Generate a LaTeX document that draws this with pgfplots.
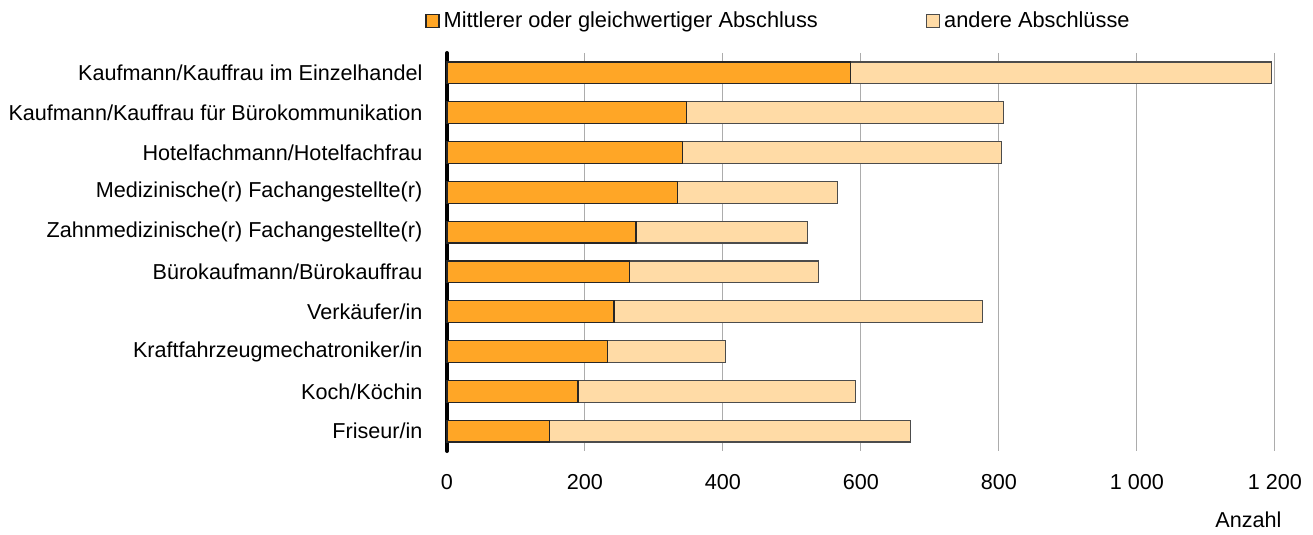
\documentclass[border=0pt]{standalone}
\usepackage{pgfplots}
\pgfplotsset{compat=1.18}
\usepackage{fontspec}
\setmainfont{Liberation Sans}
\definecolor{mittel}{RGB}{255,166,38}
\definecolor{andere}{RGB}{255,219,166}
\begin{document}
\fontsize{10.8}{12.5}\selectfont
\begin{tikzpicture}
	\begin{axis}[
		name=ax,
		xbar stacked,
		y dir=reverse,
		scale only axis,
		width=414pt, height=199pt,
		xmin=0, xmax=1200,
		ymin=-0.5, ymax=9.5,
		bar width=0.55,
		xtick={0,200,...,1200},
		ytick={0,...,9},
		yticklabels={Kaufmann/Kauffrau im Einzelhandel,
			Kaufmann/Kauffrau für Bürokommunikation,
			Hotelfachmann/Hotelfachfrau,
			Medizinische(r) Fachangestellte(r),
			Zahnmedizinische(r) Fachangestellte(r),
			Bürokaufmann/Bürokauffrau,
			Verkäufer/in,
			Kraftfahrzeugmechatroniker/in,
			Koch/Köchin,
			Friseur/in},
		/pgf/number format/assume math mode=true,
		/pgf/number format/1000 sep={\ },
		axis x line=bottom,
		axis y line=left,
		x axis line style={draw=none},
		y axis line style={draw=none},
		major tick length=0pt,
		xmajorgrids,
		major grid style={gray!65, line width=0.5pt},
		xticklabel style={yshift=-8pt},
		yticklabel style={xshift=-8.5pt},
		legend columns=2,
		legend style={at={(0,1)}, anchor=south west, xshift=-14pt, yshift=7pt,
			draw=none, fill=none, /tikz/every even column/.append style={column sep=52pt},
			font=\fontsize{10.9}{12.5}\selectfont},
		legend cell align=left,
		legend image code/.code={\draw[#1, line width=0.6pt] (3.5pt,-3.25pt) rectangle (10pt,3.25pt);},
		clip=false,
		]
		\addplot[fill=mittel, draw=black!85, line width=0.6pt] coordinates {
			(585,0) (347,1) (341,2) (334,3) (274,4) (265,5) (242,6) (233,7) (190,8) (149,9)};
		\addplot[fill=andere, draw=black!70, line width=0.6pt] coordinates {
			(610,0) (459,1) (463,2) (232,3) (249,4) (273,5) (534,6) (171,7) (402,8) (523,9)};
		\legend{Mittlerer oder gleichwertiger Abschluss, andere Abschlüsse}
		\draw[line width=2pt, line cap=round] (axis cs:0,-0.5) -- (axis cs:0,9.5);
	\end{axis}
	\node[anchor=base east] at ([xshift=7pt, yshift=-38.25pt]ax.south east) {Anzahl};
	\path ([xshift=-223.5pt,yshift=-39.5pt]ax.south west) rectangle ([xshift=19pt,yshift=26.5pt]ax.north east);
\end{tikzpicture}
\end{document}
